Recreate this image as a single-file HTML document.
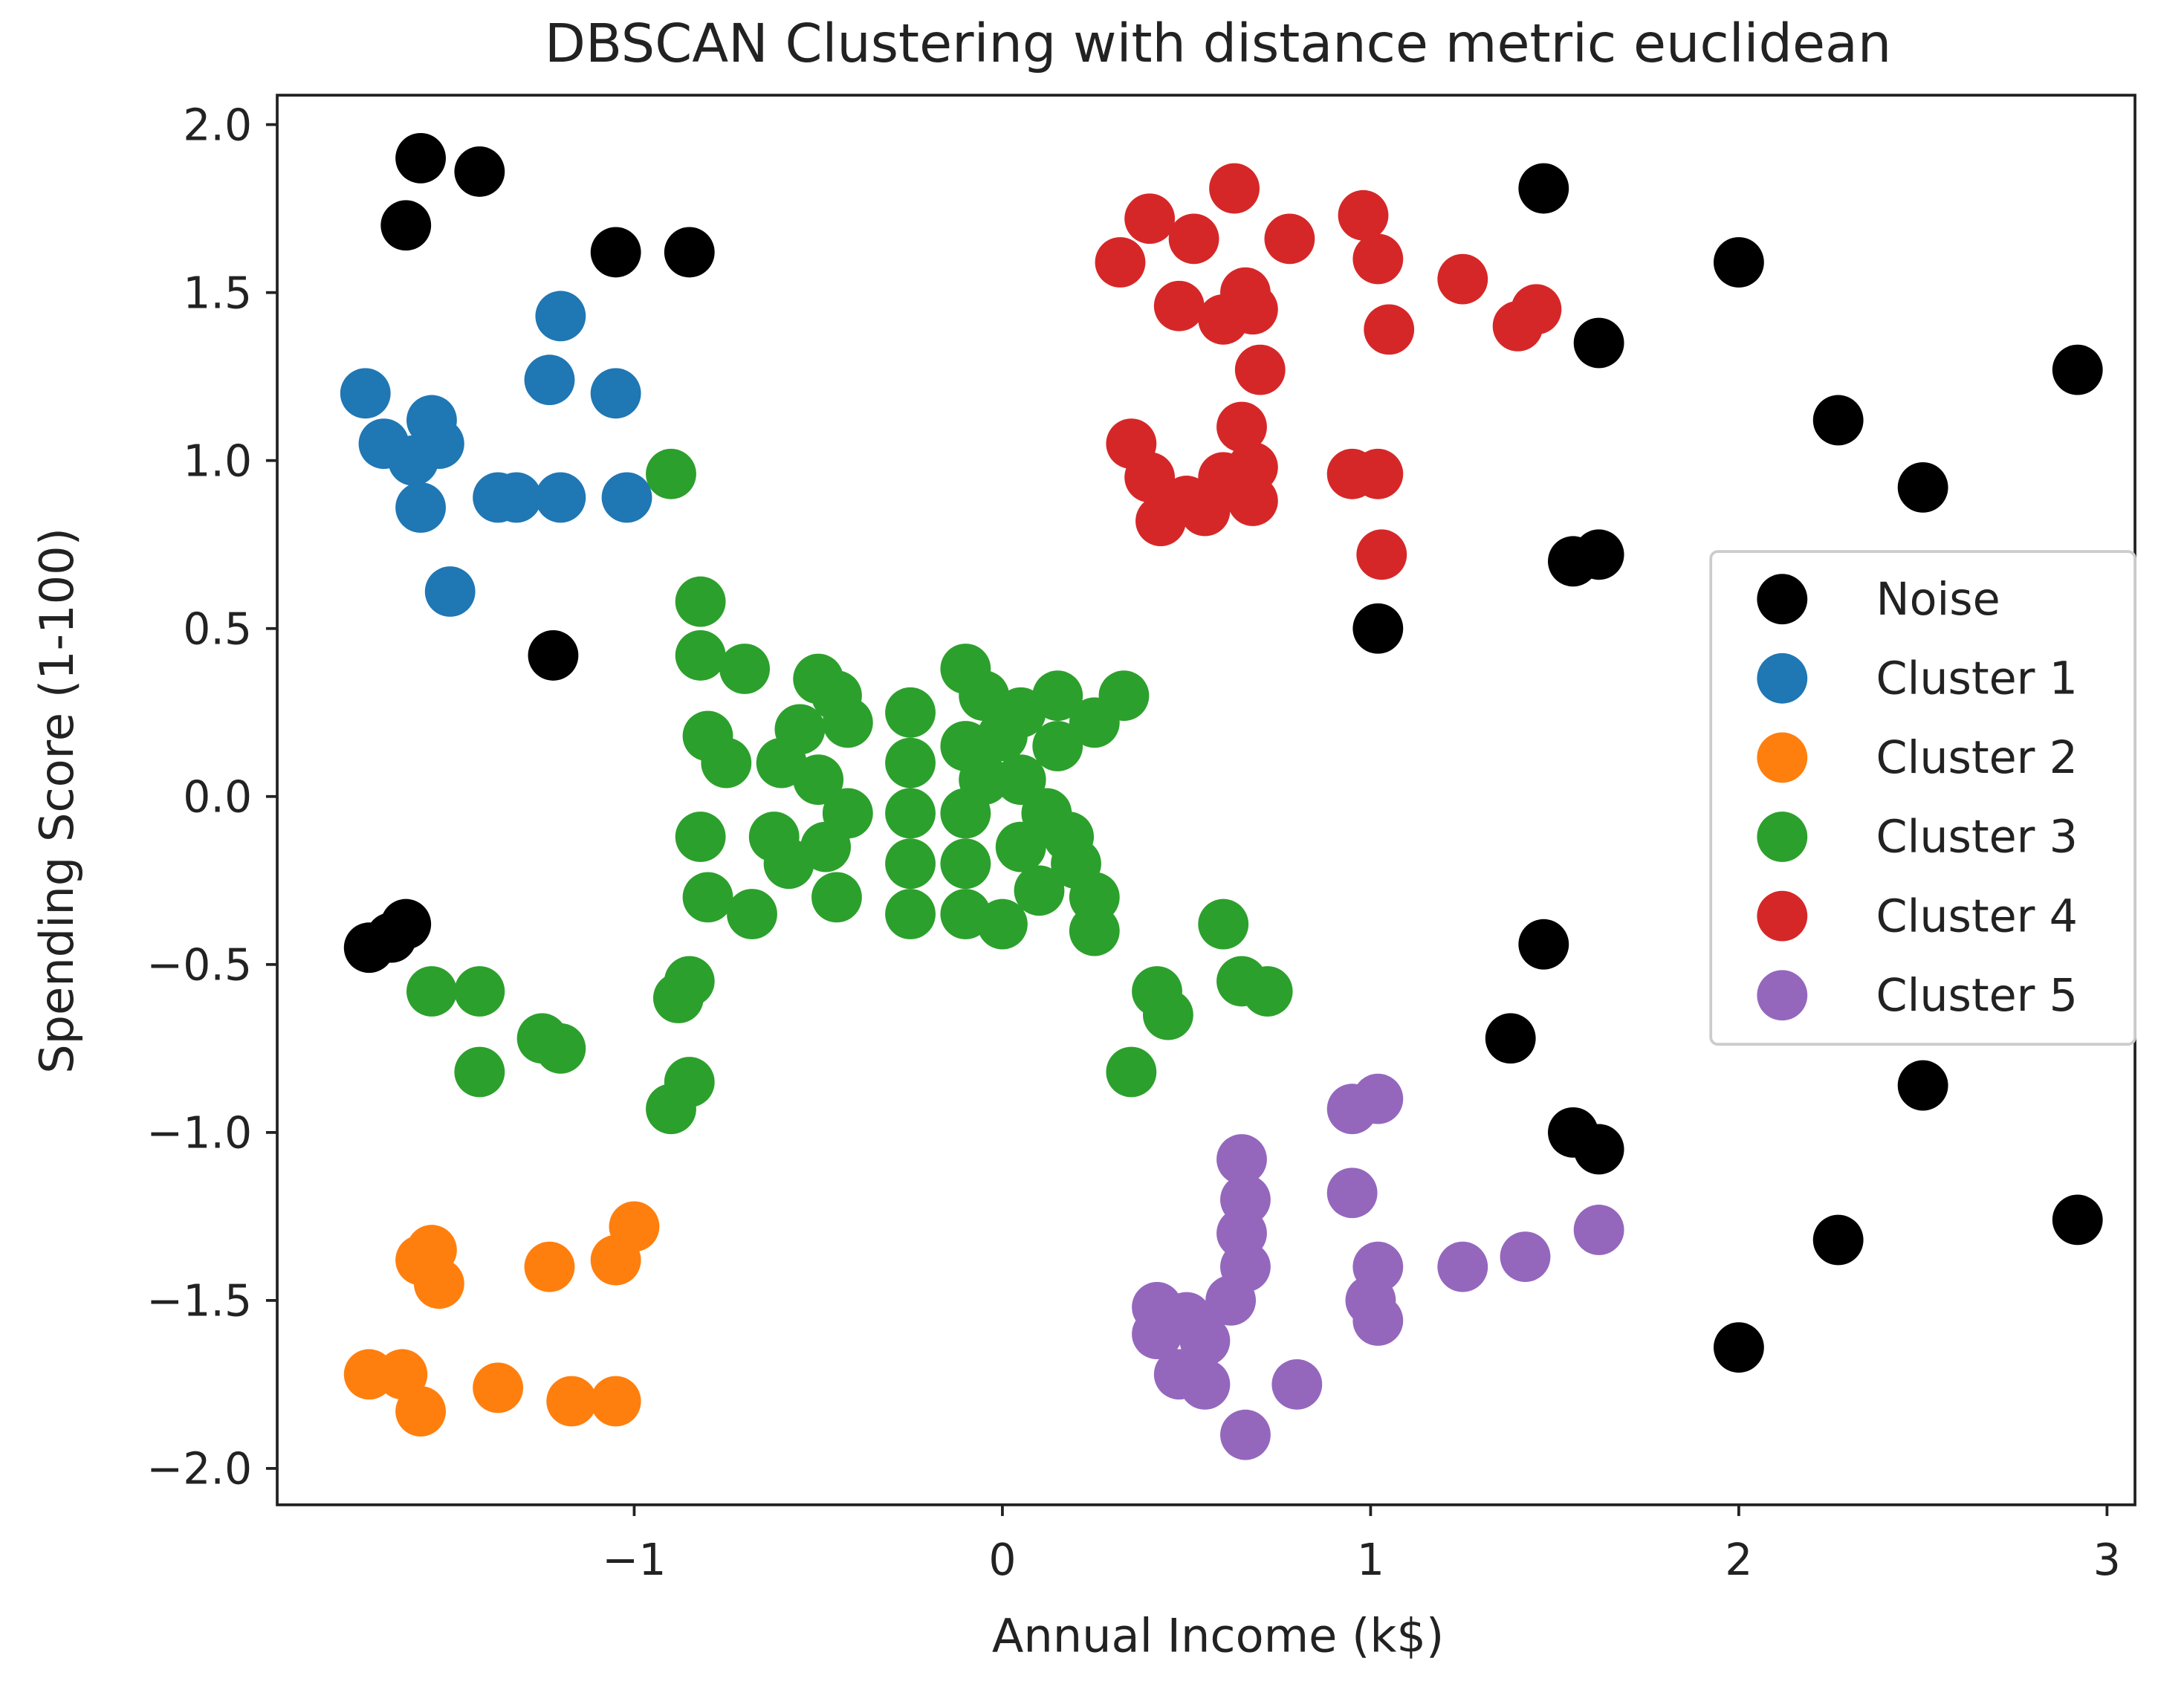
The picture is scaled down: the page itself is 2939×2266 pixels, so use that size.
<!DOCTYPE html>
<html><head><meta charset="utf-8"><style>
html,body{margin:0;padding:0;background:#fff}
svg{display:block}
text{font-family:"DejaVu Sans","Liberation Sans",sans-serif;fill:#222}
</style></head><body>
<svg id="chart" width="2939" height="2266" viewBox="0 0 1560 1203" preserveAspectRatio="none" xmlns="http://www.w3.org/2000/svg">
<rect width="1560" height="1203" fill="#fff"/>
<text x="870" y="44" font-size="38" text-anchor="middle">DBSCAN Clustering with distance metric euclidean</text>
<g id="marks"></g>
<rect x="198" y="68" width="1327" height="1007" fill="none" stroke="#222" stroke-width="2"/>
<g id="axes"></g>
<text x="870" y="1180" font-size="33" text-anchor="middle">Annual Income (k$)</text>
<text transform="translate(52,572) rotate(-90)" font-size="33" text-anchor="middle">Spending Score (1-100)</text>
<g id="legend"></g>
</svg>
<script>
const xTicks=[-1,0,1,2,3];
const xTickLabels=["\u22121","0","1","2","3"];
const yTicks=[2,1.5,1,0.5,0,-0.5,-1,-1.5,-2];
const yTickLabels=["2.0","1.5","1.0","0.5","0.0","\u22120.5","\u22121.0","\u22121.5","\u22122.0"];
const seriesNames=["Noise","Cluster 1","Cluster 2","Cluster 3","Cluster 4","Cluster 5"];
const seriesColors=["#000000","#1f77b4","#ff7f0e","#2ca02c","#d62728","#9467bd"];
const noise=[[-1.58,1.9],[-1.42,1.86],[-1.62,1.7],[-1.05,1.62],[-0.85,1.62],[-1.22,0.42],[1.47,1.81],[2.0,1.59],[1.62,1.35],[2.92,1.27],[2.27,1.12],[2.5,0.92],[1.55,0.7],[1.62,0.72],[1.02,0.5],[-1.72,-0.45],[-1.66,-0.42],[-1.62,-0.38],[1.47,-0.44],[1.38,-0.72],[2.5,-0.86],[1.55,-1.0],[1.62,-1.05],[2.92,-1.26],[2.27,-1.32],[2.0,-1.64]];
const cluster1=[[-1.73,1.2],[-1.68,1.05],[-1.6,1.0],[-1.55,1.12],[-1.53,1.05],[-1.58,0.86],[-1.5,0.61],[-1.37,0.89],[-1.32,0.89],[-1.2,1.43],[-1.23,1.24],[-1.2,0.89],[-1.05,1.2],[-1.02,0.89]];
const cluster2=[[-1.58,-1.38],[-1.55,-1.35],[-1.53,-1.45],[-1.72,-1.72],[-1.63,-1.72],[-1.58,-1.83],[-1.37,-1.76],[-1.23,-1.4],[-1.17,-1.8],[-1.05,-1.8],[-1.05,-1.38],[-1.0,-1.28]];
const cluster3=[[-0.9,0.96],[-1.55,-0.58],[-1.42,-0.58],[-1.42,-0.82],[-1.25,-0.72],[-1.2,-0.75],[-0.9,-0.93],[-0.85,-0.85],[-0.85,-0.55],[-0.88,-0.6],[0.35,-0.82],[0.42,-0.58],[0.45,-0.65],[0.6,-0.38],[0.65,-0.55],[0.72,-0.58],[-0.82,0.58],[-0.82,0.42],[-0.7,0.38],[-0.8,0.18],[-0.75,0.1],[-0.82,-0.12],[-0.8,-0.3],[-0.68,-0.35],[-0.62,-0.12],[-0.55,0.2],[-0.5,0.35],[-0.45,0.3],[-0.42,0.22],[-0.5,0.05],[-0.42,-0.05],[-0.48,-0.15],[-0.58,-0.2],[-0.45,-0.3],[-0.6,0.1],[-0.25,0.25],[-0.25,0.1],[-0.25,-0.05],[-0.25,-0.2],[-0.25,-0.35],[-0.1,0.38],[-0.05,0.3],[-0.1,0.15],[-0.1,-0.05],[-0.1,-0.2],[-0.1,-0.35],[0.0,-0.38],[0.05,0.25],[0.05,0.05],[0.05,-0.15],[0.15,0.15],[0.15,0.3],[0.12,-0.05],[0.18,-0.12],[0.25,-0.3],[0.25,-0.4],[0.25,0.22],[0.33,0.3],[0.1,-0.28],[-0.05,0.05],[0.0,0.18],[0.2,-0.2]];
const cluster4=[[0.32,1.59],[0.4,1.72],[0.52,1.66],[0.63,1.81],[0.78,1.66],[0.48,1.46],[0.6,1.42],[0.66,1.5],[0.68,1.45],[0.7,1.27],[0.98,1.73],[1.02,1.6],[1.05,1.39],[1.25,1.54],[1.4,1.4],[1.45,1.45],[0.35,1.05],[0.4,0.95],[0.43,0.82],[0.5,0.88],[0.55,0.85],[0.65,1.1],[0.68,0.98],[0.68,0.88],[0.6,0.95],[0.95,0.96],[1.02,0.96],[1.03,0.72]];
const cluster5=[[0.42,-1.52],[0.42,-1.6],[0.5,-1.55],[0.48,-1.72],[0.55,-1.75],[0.55,-1.62],[0.62,-1.5],[0.65,-1.08],[0.66,-1.2],[0.65,-1.3],[0.66,-1.4],[0.66,-1.9],[0.8,-1.75],[0.95,-0.93],[1.02,-0.9],[0.95,-1.18],[1.02,-1.4],[1.0,-1.5],[1.02,-1.56],[1.25,-1.4],[1.42,-1.37],[1.62,-1.29]];
const allSeries=[noise,cluster1,cluster2,cluster3,cluster4,cluster5];

const NS="http://www.w3.org/2000/svg";
const sx=v=>716+v*263;
const sy=v=>569-v*240;
function mk(tag,attrs,parent){const e=document.createElementNS(NS,tag);for(const k in attrs)e.setAttribute(k,attrs[k]);parent.appendChild(e);return e;}
const marks=document.getElementById('marks');
allSeries.forEach((pts,si)=>{
  const g=mk('g',{},marks);
  
  
  pts.forEach(p=>{
    const c=mk('circle',{cx:sx(p[0]),cy:sy(p[1]),r:18,fill:seriesColors[si]},g);
    
    
  });
});
const axes=document.getElementById('axes');
xTicks.forEach((v,i)=>{
  const l=mk('line',{x1:sx(v),x2:sx(v),y1:1075,y2:1083,stroke:'#222','stroke-width':2},axes);
  
  
  const t=mk('text',{x:sx(v),y:1125,'font-size':31,'text-anchor':'middle'},axes);
  t.textContent=xTickLabels[i];
  
  
});
yTicks.forEach((v,i)=>{
  const l=mk('line',{x1:190,x2:198,y1:sy(v),y2:sy(v),stroke:'#222','stroke-width':2},axes);
  
  
  const t=mk('text',{x:180,y:sy(v)+11,'font-size':31,'text-anchor':'end'},axes);
  t.textContent=yTickLabels[i];
  
  
});
const lg=document.getElementById('legend');
const box=mk('rect',{x:1222,y:394,width:303,height:352,rx:5,fill:'#fff','fill-opacity':0.85,stroke:'#ccc','stroke-width':2},lg);


seriesNames.forEach((n,i)=>{
  const y=428+i*56.6;
  const c=mk('circle',{cx:1273,cy:y,r:18,fill:seriesColors[i]},lg);
  
  
  const t=mk('text',{x:1340,y:y+11,'font-size':32},lg);
  t.textContent=n;
  
  
});
</script>
</body></html>
